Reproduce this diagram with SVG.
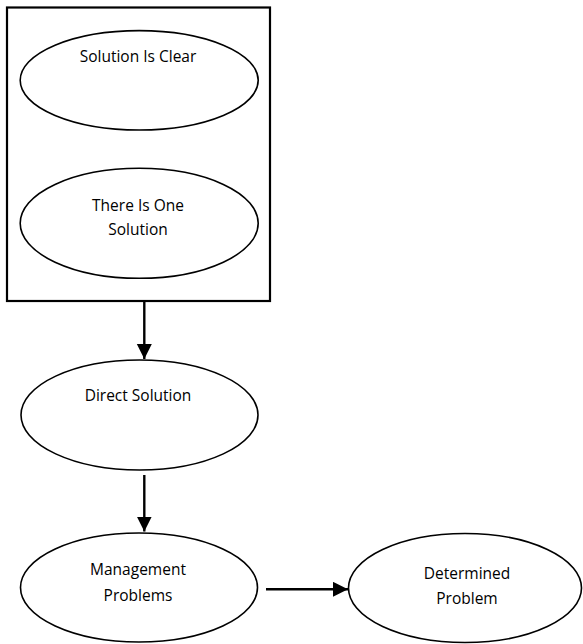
<svg xmlns="http://www.w3.org/2000/svg" width="583" height="644" viewBox="0 0 583 644">
<style>
.n{fill:#fff;stroke:#000;stroke-width:1.6}
.t{font-family:"Open Sans","Noto Sans","Liberation Sans",sans-serif;font-size:15.5px;fill:#000;text-anchor:middle}
.c{stroke:#000;stroke-width:2.4;fill:none}
</style>
<defs>
<marker id="ah" markerUnits="userSpaceOnUse" markerWidth="16" markerHeight="16" refX="15" refY="7.5" orient="auto">
<path d="M0,0 L15,7.5 L0,15 z" fill="#000"/>
</marker>
</defs>
<rect id="group" x="7" y="7.5" width="263" height="293.5" fill="none" stroke="#000" stroke-width="2.2"/>
<g id="solution-is-clear">
<ellipse class="n" cx="139.2" cy="80.3" rx="119" ry="49.7"/>
<text class="t" x="138" y="62">Solution Is Clear</text>
</g>
<g id="there-is-one-solution">
<ellipse class="n" cx="139.2" cy="223.3" rx="119" ry="55"/>
<text class="t" x="138" y="210.5">There Is One</text>
<text class="t" x="138" y="235">Solution</text>
</g>
<g id="direct-solution">
<ellipse class="n" cx="139.5" cy="415" rx="118.5" ry="55"/>
<text class="t" x="138" y="401">Direct Solution</text>
</g>
<g id="management-problems">
<ellipse class="n" cx="139" cy="587.5" rx="118.5" ry="54.5"/>
<text class="t" x="138" y="575">Management</text>
<text class="t" x="138" y="600.5">Problems</text>
</g>
<g id="determined-problem">
<ellipse class="n" cx="465" cy="588" rx="116.5" ry="54.5"/>
<text class="t" x="467" y="578.5">Determined</text>
<text class="t" x="467" y="604">Problem</text>
</g>
<g id="connectors">
<line class="c" x1="144.3" y1="301" x2="144.3" y2="359" marker-end="url(#ah)"/>
<line class="c" x1="144.3" y1="475" x2="144.3" y2="531.5" marker-end="url(#ah)"/>
<line class="c" x1="266" y1="589.3" x2="348" y2="589.3" marker-end="url(#ah)"/>
</g>
</svg>
